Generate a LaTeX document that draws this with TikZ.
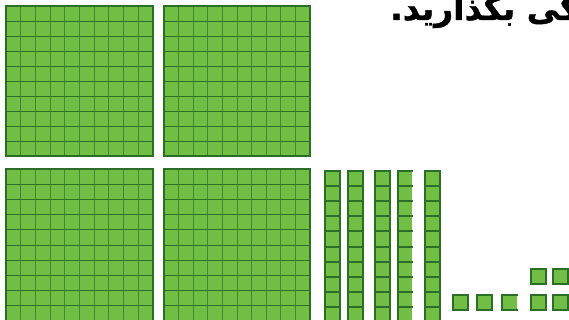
\documentclass[tikz,border=0pt]{standalone}
\usepackage{fontspec}
\newfontfamily\arabicfont[Script=Arabic,BoldFeatures={FakeBold=1.2}]{DejaVu Sans}
\TeXXeTstate=1
\definecolor{ufill}{RGB}{113,190,69}
\definecolor{uborder}{RGB}{43,110,38}
\definecolor{uhline}{RGB}{45,113,38}
\definecolor{uvline}{RGB}{60,140,48}
\tikzset{
  cellfill/.style={fill=ufill},
  blockborder/.style={draw=uborder,line width=2pt},
  hline/.style={draw=uhline,line width=1.6pt},
  vline/.style={draw=uvline,line width=1.5pt},
}
\newcommand\hundredblock[4]{%
  \fill[cellfill] (#1,#2) rectangle (#3,#4);
  \foreach \i in {1,...,9}{
    \pgfmathsetmacro\xx{round(#1+(#3-#1)*\i/10-0.5)+0.5}
    \draw[vline] (\xx,#2) -- (\xx,#4);
  }
  \foreach \i in {1,...,9}{
    \pgfmathsetmacro\yy{round(#2+(#4-#2)*\i/10-0.5)+0.5}
    \draw[hline] (#1,\yy) -- (#3,\yy);
  }
  \draw[blockborder] (#1,#2) rectangle (#3,#4);
}
\newcommand\tenrod[4]{%
  \fill[cellfill] (#1,#2) rectangle (#3,#4);
  \foreach \i in {1,...,9}{
    \pgfmathsetmacro\yy{round(#2+(#4-#2)*\i/10)}
    \draw[blockborder] (#1,\yy) -- (#3,\yy);
  }
  \draw[blockborder] (#1,#2) rectangle (#3,#4);
}
\newcommand\tenrodopen[4]{%
  \fill[cellfill] (#1,#2) rectangle (#3,#4);
  \foreach \i in {1,...,9}{
    \pgfmathsetmacro\yy{round(#2+(#4-#2)*\i/10)}
    \draw[blockborder] (#1,\yy) -- (#3+1,\yy);
  }
  \draw[blockborder] (#3+1,#2) -- (#1,#2) -- (#1,#4);
}
\newcommand\unitsq[2]{%
  \fill[cellfill] (#1,#2) rectangle +(15,15);
  \draw[blockborder] (#1,#2) rectangle +(15,15);
}
\begin{document}
\begin{tikzpicture}[x=1pt,y=-1pt]
\useasboundingbox (0,0) rectangle (569,320);
\clip (0,0) rectangle (569,320);
% hundreds
\hundredblock{6}{6}{153}{156}
\hundredblock{164}{6}{310}{156}
\hundredblock{6}{169}{153}{321}
\hundredblock{164}{169}{310}{321}
% tens
\tenrod{325}{171}{340}{322}
\tenrod{348}{171}{363}{322}
\tenrod{375}{171}{390}{322}
\tenrodopen{398}{171}{412}{322}
\tenrod{425}{171}{440}{322}
% ones
\unitsq{453}{295}
\unitsq{477}{295}
\fill[cellfill] (502,295) rectangle +(14.5,15);
\draw[blockborder] (517.5,295) -- (502,295) -- (502,310) -- (517.5,310);
\unitsq{531}{295}
\unitsq{552.5}{295}
\unitsq{531}{269}
\unitsq{552.5}{269}
% text
\node[anchor=base west,inner sep=0pt] (title) at (390,20)
  {\arabicfont\bfseries\fontsize{33}{33}\selectfont\beginR یکی بگذارید.\endR};
\end{tikzpicture}
\end{document}
